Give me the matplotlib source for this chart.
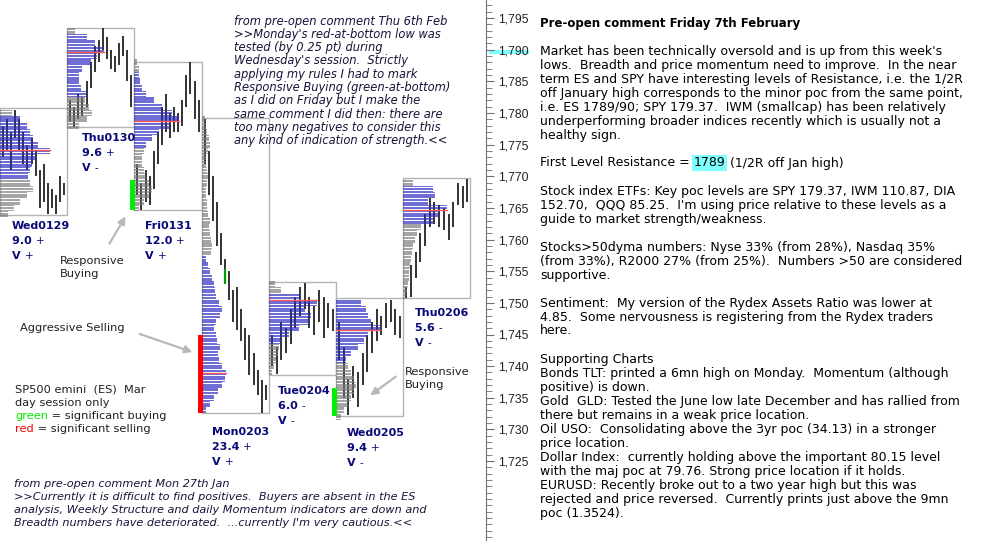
import numpy as np
import matplotlib.pyplot as plt
from matplotlib.patches import Rectangle
from matplotlib.ticker import FuncFormatter

# ---- day sessions (ES, day session only) ----
days = ['Wed0129', 'Thu0130', 'Fri0131', 'Mon0203', 'Tue0204', 'Wed0205', 'Thu0206']
day_range = ['9.0', '9.6', '12.0', '23.4', '6.0', '9.4', '5.6']
range_sign = ['+', '+', '+', '+', '-', '+', '-']
vol_sign = ['+', '-', '+', '+', '-', '-', '-']

day_high = [1780.8, 1793.4, 1788.0, 1779.2, 1753.3, 1750.8, 1769.7]
day_low = [1763.9, 1777.8, 1764.7, 1732.6, 1738.6, 1732.1, 1750.8]
poc = [1774.1, 1789.6, 1778.7, 1738.9, 1750.5, 1745.7, 1764.6]
va_low = [1769.5, 1782.5, 1774.5, 1732.5, 1743.5, 1740.5, 1762.5]
va_high = [1779.5, 1792.5, 1786.5, 1757.5, 1751.5, 1750.5, 1768.5]

# volume profile, one value per point starting at prof_start
prof_start = [1764, 1778, 1765, 1733, 1739, 1732, 1751]
prof_vol = [
    [8, 14, 20, 27, 33, 30, 28, 30, 32, 36, 50, 38, 33, 30, 27, 20, 12],
    [12, 20, 25, 22, 18, 20, 14, 12, 12, 15, 24, 30, 37, 28, 20, 8],
    [5, 10, 15, 18, 15, 12, 10, 8, 8, 10, 12, 18, 25, 35, 45, 38, 28, 20, 12, 8, 6, 5, 5, 3],
    [4, 8, 12, 16, 20, 23, 24, 20, 17, 16, 18, 15, 14, 12, 14, 18, 20, 17, 14, 13, 12, 10, 8, 6, 4,
     9, 10, 9, 8, 7, 8, 6, 5, 5, 4, 4, 5, 6, 5, 4, 4, 6, 8, 7, 5, 4, 3],
    [3, 5, 7, 9, 10, 12, 20, 30, 40, 42, 36, 48, 32, 12, 6],
    [5, 8, 12, 15, 18, 20, 18, 15, 12, 10, 15, 22, 28, 32, 44, 35, 32, 30, 25],
    [3, 4, 5, 6, 6, 7, 8, 9, 10, 12, 14, 18, 30, 36, 44, 25, 32, 30, 10],
]

# price bars (high / low) per session
bar_high = [
    [1778, 1779, 1777, 1780.5, 1779, 1777, 1775, 1776, 1774, 1771, 1772, 1769, 1768, 1767, 1770, 1769],
    [1782, 1781, 1783, 1782.5, 1785, 1788, 1790.5, 1791.5, 1793.4, 1792, 1790, 1789, 1791, 1792.2, 1790, 1786],
    [1772, 1769, 1771, 1770, 1774, 1777, 1781, 1783, 1780, 1781, 1780, 1782, 1786, 1788, 1785, 1782],
    [1779, 1774, 1770, 1766, 1761, 1757, 1755, 1752, 1752.5, 1749, 1746, 1744.9, 1742, 1739.4, 1737.8, 1737],
    [1745, 1743, 1747, 1746, 1749, 1751, 1752.5, 1753.2, 1751, 1749.5, 1752, 1751, 1750, 1749],
    [1747, 1743, 1738, 1740, 1739, 1742, 1745, 1747, 1749, 1748, 1750, 1750.5, 1749, 1748],
    [1752.5, 1756, 1758, 1761, 1764, 1766.5, 1766, 1765.5, 1765, 1764, 1766, 1769, 1768.5, 1769.5],
]
bar_low = [
    [1773, 1774, 1771, 1776, 1774, 1772, 1771, 1772, 1770, 1765, 1766, 1764, 1765, 1764, 1766, 1767],
    [1778.5, 1777.8, 1779, 1779.5, 1781, 1784, 1786.5, 1788, 1790, 1788.5, 1787, 1786.5, 1787.5, 1789, 1785, 1781],
    [1767, 1764.7, 1766, 1765.5, 1768, 1772, 1775, 1777, 1776, 1777, 1777, 1778, 1781, 1783, 1779, 1777],
    [1772, 1767, 1763, 1759, 1756, 1753.5, 1750.5, 1747, 1745.7, 1744, 1741, 1738.6, 1737, 1735.4, 1732.6, 1734.7],
    [1740, 1738.8, 1741, 1742, 1743.5, 1746, 1748, 1749, 1746, 1745, 1747, 1744.5, 1746, 1745.5],
    [1741, 1735, 1732.3, 1735, 1733.5, 1737, 1739, 1742, 1744, 1745, 1746, 1747, 1745, 1744.5],
    [1750.8, 1751, 1754, 1756.5, 1759, 1762, 1762.5, 1762, 1761.5, 1760, 1762, 1765.5, 1765, 1766],
]

# significant buying / selling markers
sig_day = [2, 3, 5]
sig_low = [1764.7, 1732.6, 1732.1]
sig_high = [1769.4, 1744.9, 1736.5]
sig_kind = ['buy', 'sell', 'buy']
green_bar = (3, 5, 1753.0, 1755.3)  # day, bar, low, high

top_comment = [
    "from pre-open comment Thu 6th Feb",
    ">>Monday's red-at-bottom low was",
    "tested (by 0.25 pt) during",
    "Wednesday's session.  Strictly",
    "applying my rules I had to mark",
    "Responsive Buying (green-at-bottom)",
    "as I did on Friday but I make the",
    "same comment I did then: there are",
    "too many negatives to consider this",
    "any kind of indication of strength.<<",
]
bottom_comment = [
    "from pre-open comment Mon 27th Jan",
    ">>Currently it is difficult to find positives.  Buyers are absent in the ES",
    "analysis, Weekly Structure and daily Momentum indicators are down and",
    "Breadth numbers have deteriorated.  ...currently I'm very cautious.<<",
]
notes_title = "Pre-open comment Friday 7th February"
notes = [
    "Market has been technically oversold and is up from this week's",
    "lows.  Breadth and price momentum need to improve.  In the near",
    "term ES and SPY have interesting levels of Resistance, i.e. the 1/2R",
    "off January high corresponds to the minor poc from the same point,",
    "i.e. ES 1789/90; SPY 179.37.  IWM (smallcap) has been relatively",
    "underperforming broader indices recently which is usually not a",
    "healthy sign.",
    "",
    "RESIST",
    "",
    "Stock index ETFs: Key poc levels are SPY 179.37, IWM 110.87, DIA",
    "152.70,  QQQ 85.25.  I'm using price relative to these levels as a",
    "guide to market strength/weakness.",
    "",
    "Stocks>50dyma numbers: Nyse 33% (from 28%), Nasdaq 35%",
    "(from 33%), R2000 27% (from 25%).  Numbers >50 are considered",
    "supportive.",
    "",
    "Sentiment:  My version of the Rydex Assets Ratio was lower at",
    "4.85.  Some nervousness is registering from the Rydex traders",
    "here.",
    "",
    "Supporting Charts",
    "Bonds TLT: printed a 6mn high on Monday.  Momentum (although",
    "positive) is down.",
    "Gold  GLD: Tested the June low late December and has rallied from",
    "there but remains in a weak price location.",
    "Oil USO:  Consolidating above the 3yr poc (34.13) in a stronger",
    "price location.",
    "Dollar Index:  currently holding above the important 80.15 level",
    "with the maj poc at 79.76. Strong price location if it holds.",
    "EURUSD: Recently broke out to a two year high but this was",
    "rejected and price reversed.  Currently prints just above the 9mn",
    "poc (1.3524).",
]
resistance = ("First Level Resistance = ", "1789", " (1/2R off Jan high)")

# ---- layout ----
FW, FH = 983, 555
fig = plt.figure(figsize=(FW / 100, FH / 100), dpi=100)
fig.patch.set_facecolor('white')
AX_R = 486
ax = fig.add_axes([0, 0, AX_R / FW, 1])


def px2p(y):
    return 1795 - (y - 18) / 6.33


ax.set_xlim(0, AX_R)
ax.set_ylim(px2p(FH), px2p(0))
W = 67.2
stripes = [-0.375, -0.125, 0.125, 0.375]   # profile drawn as 0.25pt lines

for i in range(len(days)):
    x0 = i * W
    ax.add_patch(Rectangle((x0, day_low[i]), W, day_high[i] - day_low[i], fill=False,
                           ec='#b4b4b4', lw=1, zorder=1))
    xs = np.linspace(x0 + 3, x0 + W - 3, len(bar_high[i]))
    ax.vlines(xs, bar_low[i], bar_high[i], color='#333333', lw=1.4, zorder=2)
    lv = prof_start[i] + np.arange(len(prof_vol[i]))
    vol = np.array(prof_vol[i])
    inva = (lv >= va_low[i]) & (lv <= va_high[i])
    for off in stripes:
        ax.barh(lv[inva] + off, vol[inva], height=0.19, left=x0, color='#2a2ac0', alpha=0.68,
                lw=0, zorder=3)
        ax.barh(lv[~inva] + off, vol[~inva], height=0.19, left=x0, color='#7a7a7a', alpha=0.68,
                lw=0, zorder=3)
    ax.plot([x0, x0 + vol.max()], [poc[i], poc[i]], color='#ff5a5a', lw=1, zorder=4)

for d, lo, hi, k in zip(sig_day, sig_low, sig_high, sig_kind):
    ax.add_patch(Rectangle((d * W - 4, lo), 5, hi - lo,
                           color='#00ee00' if k == 'buy' else '#ff0000', lw=0, zorder=5))
gd, gb, glo, ghi = green_bar
gx = np.linspace(gd * W + 3, gd * W + W - 3, len(bar_high[gd]))[gb]
ax.vlines([gx], glo, ghi, color='#00a000', lw=1.6, zorder=5)

for s in ['top', 'left', 'bottom']:
    ax.spines[s].set_visible(False)
ax.spines['right'].set_color('#707070')
ax.spines['right'].set_bounds(px2p(540), px2p(0))
ax.set_xticks([])
ax.yaxis.tick_right()
ax.set_yticks(np.arange(1725, 1800, 5))
ax.set_yticks(np.arange(1713, 1798, 1), minor=True)
ax.yaxis.set_major_formatter(FuncFormatter(lambda v, p: f'{v:,.0f}'))
ax.tick_params(axis='y', which='major', length=6, color='#707070', labelsize=8.8,
               labelcolor='#222222', pad=3, labelfontfamily='Liberation Sans')
ax.tick_params(axis='y', which='minor', length=4, color='#707070')

# cyan mark on 1,790
fig.patches.append(Rectangle((489 / FW, 1 - 54 / FH), 40 / FW, 4 / FH,
                             transform=fig.transFigure, color='#80ffff', lw=0, zorder=-1))

fig.canvas.draw()
r = fig.canvas.get_renderer()


def ftxt(x, y, s, **kw):
    return fig.text(x / FW, 1 - y / FH, s, va='center', ha='left', **kw)


def width(s, **kw):
    t1 = fig.text(0, 0, s + '|', **kw)
    t2 = fig.text(0, 0, '|', **kw)
    w = t1.get_window_extent(r).width - t2.get_window_extent(r).width
    t1.remove()
    t2.remove()
    return w


def segs(x, y, parts):
    for s, kw in parts:
        ftxt(x, y, s, **kw)
        x += width(s, **{k: v for k, v in kw.items() if k in ('fontsize', 'weight', 'style', 'family')})


# right panel
RS = 9.0
ftxt(540, 23, notes_title, fontsize=8.5, weight='bold', color='black')
for j, line in enumerate(notes):
    y = 51 + 14 * j
    if line == 'RESIST':
        segs(540, y, [(resistance[0], dict(fontsize=RS, color='black')),
                      (resistance[1], dict(fontsize=RS, color='black',
                                           bbox=dict(boxstyle='square,pad=0.12', fc='#80ffff', ec='none'))),
                      (resistance[2], dict(fontsize=RS, color='black'))])
    elif line:
        ftxt(540, y, line, fontsize=RS, color='black')

# comments
for j, line in enumerate(top_comment):
    ftxt(234, 21 + 13.3 * j, line, fontsize=8.3, style='italic', color='#15153a')
for j, line in enumerate(bottom_comment):
    ftxt(14, 484 + 13 * j, line, fontsize=8.1, style='italic', color='#15153a')

# day labels
label_xy = [(12, 226), (82, 138), (145, 226), (212, 432), (278, 391), (347, 433), (415, 313)]
navy = '#0a0a78'
for i, (lx, ly) in enumerate(label_xy):
    ftxt(lx, ly, days[i], fontsize=8, weight='bold', color=navy)
    segs(lx, ly + 15, [(day_range[i] + ' ', dict(fontsize=8, weight='bold', color=navy)),
                       (range_sign[i], dict(fontsize=7.5, color=navy))])
    segs(lx, ly + 30, [('V ', dict(fontsize=8, weight='bold', color=navy)),
                       (vol_sign[i], dict(fontsize=7.5, color=navy))])

# annotations
TS = 8.2
ftxt(60, 261, "Responsive", fontsize=TS, color='#202020')
ftxt(60, 274, "Buying", fontsize=TS, color='#202020')
ftxt(405, 372, "Responsive", fontsize=TS, color='#202020')
ftxt(405, 385, "Buying", fontsize=TS, color='#202020')
ftxt(20, 328, "Aggressive Selling", fontsize=TS, color='#202020')
ftxt(15, 390, "SP500 emini  (ES)  Mar", fontsize=TS, color='#202020')
ftxt(15, 403, "day session only", fontsize=TS, color='#202020')
segs(15, 416, [("green", dict(fontsize=TS, color='#00ee00')),
               (" = significant buying", dict(fontsize=TS, color='#202020'))])
segs(15, 429, [("red", dict(fontsize=TS, color='#ff0000')),
               (" = significant selling", dict(fontsize=TS, color='#202020'))])


def arrow(x1, y1, x2, y2):
    ax.annotate('', xy=(x2 / FW, 1 - y2 / FH), xytext=(x1 / FW, 1 - y1 / FH),
                xycoords='figure fraction', textcoords='figure fraction',
                arrowprops=dict(arrowstyle='-|>', color='#b8b8b8', lw=1.6, mutation_scale=11),
                annotation_clip=False)


arrow(108, 246, 127, 214)
arrow(137, 333, 195, 353)
arrow(398, 375, 368, 397)

fig.savefig('out.png', dpi=100)
